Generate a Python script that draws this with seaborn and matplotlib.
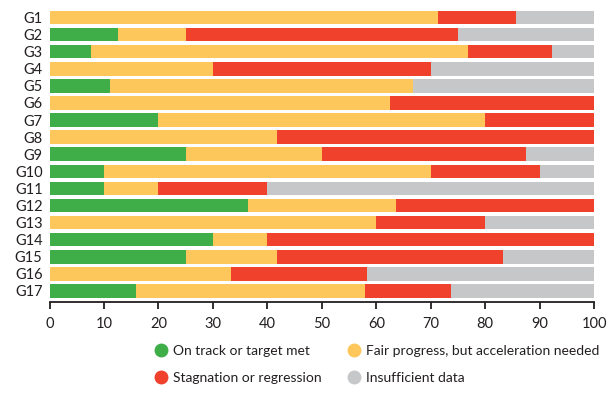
import matplotlib
matplotlib.use("Agg")
import matplotlib.pyplot as plt
from matplotlib.lines import Line2D
import numpy as np
import pandas as pd
import seaborn as sns

# share of targets per goal (%)
goals = [f"G{i}" for i in range(1, 18)]
on_track = [0, 12.5, 7.7, 0, 11.1, 0, 20, 0, 25, 10, 10, 36.4, 0, 30, 25, 0, 15.8]
fair = [71.4, 12.5, 69.2, 30, 55.6, 62.5, 60, 41.7, 25, 60, 10, 27.3, 60, 10, 16.7, 33.3, 42.1]
stagnation = [14.3, 50, 15.4, 40, 0, 37.5, 20, 58.3, 37.5, 20, 20, 36.3, 20, 60, 41.6, 25, 15.8]
insufficient = [14.3, 25, 7.7, 30, 33.3, 0, 0, 0, 12.5, 10, 60, 0, 20, 0, 16.7, 41.7, 26.3]

categories = ["On track or target met", "Fair progress, but acceleration needed",
              "Stagnation or regression", "Insufficient data"]
colors = ["#3fae49", "#fdc75c", "#ef412c", "#c6c7c8"]

df = pd.DataFrame({"goal": goals, categories[0]: on_track, categories[1]: fair,
                   categories[2]: stagnation, categories[3]: insufficient})
cum = df[categories].cumsum(axis=1)
cum["goal"] = df["goal"]

sns.set_style("white")
plt.rcParams["font.family"] = ["Lato", "DejaVu Sans"]
TXT = "#231f20"

fig = plt.figure(figsize=(6.16, 3.98), dpi=100)
ax = fig.add_axes([0.0804, 0.2412, 0.884, 0.7412])

# stacked bars: draw cumulative totals from the outermost layer inwards
for cat, col in reversed(list(zip(categories, colors))):
    sns.barplot(data=cum, x=cat, y="goal", order=goals, color=col, saturation=1,
                orient="h", width=0.79, linewidth=0, ax=ax)

ax.set_xlim(0, 100)
ax.set_ylim(16.645, -0.615)
ax.set_xticks(np.arange(0, 101, 10))
ax.set_xlabel("")
ax.set_ylabel("")
for s in ["top", "right", "left"]:
    ax.spines[s].set_visible(False)
ax.spines["bottom"].set_color(TXT)
ax.spines["bottom"].set_linewidth(1.3)
ax.tick_params(axis="x", direction="out", length=5, width=1.3, color=TXT,
               labelsize=10.5, labelcolor=TXT, pad=6, bottom=True)
ax.tick_params(axis="y", length=0, labelsize=10.5, labelcolor=TXT, pad=5)

# legend filled row by row
order = [0, 2, 1, 3]
handles = [Line2D([0], [0], marker="o", linestyle="", markersize=9,
                  markerfacecolor=colors[i], markeredgecolor=colors[i]) for i in order]
fig.legend(handles, [categories[i] for i in order], ncol=2, frameon=False,
           loc="upper left", bbox_to_anchor=(147 / 616, 1 - 338 / 398), fontsize=10,
           labelcolor=TXT, borderpad=0, handlelength=1.0, handletextpad=0.4,
           columnspacing=1.8, labelspacing=1.05)

fig.savefig("out.png", dpi=100)
